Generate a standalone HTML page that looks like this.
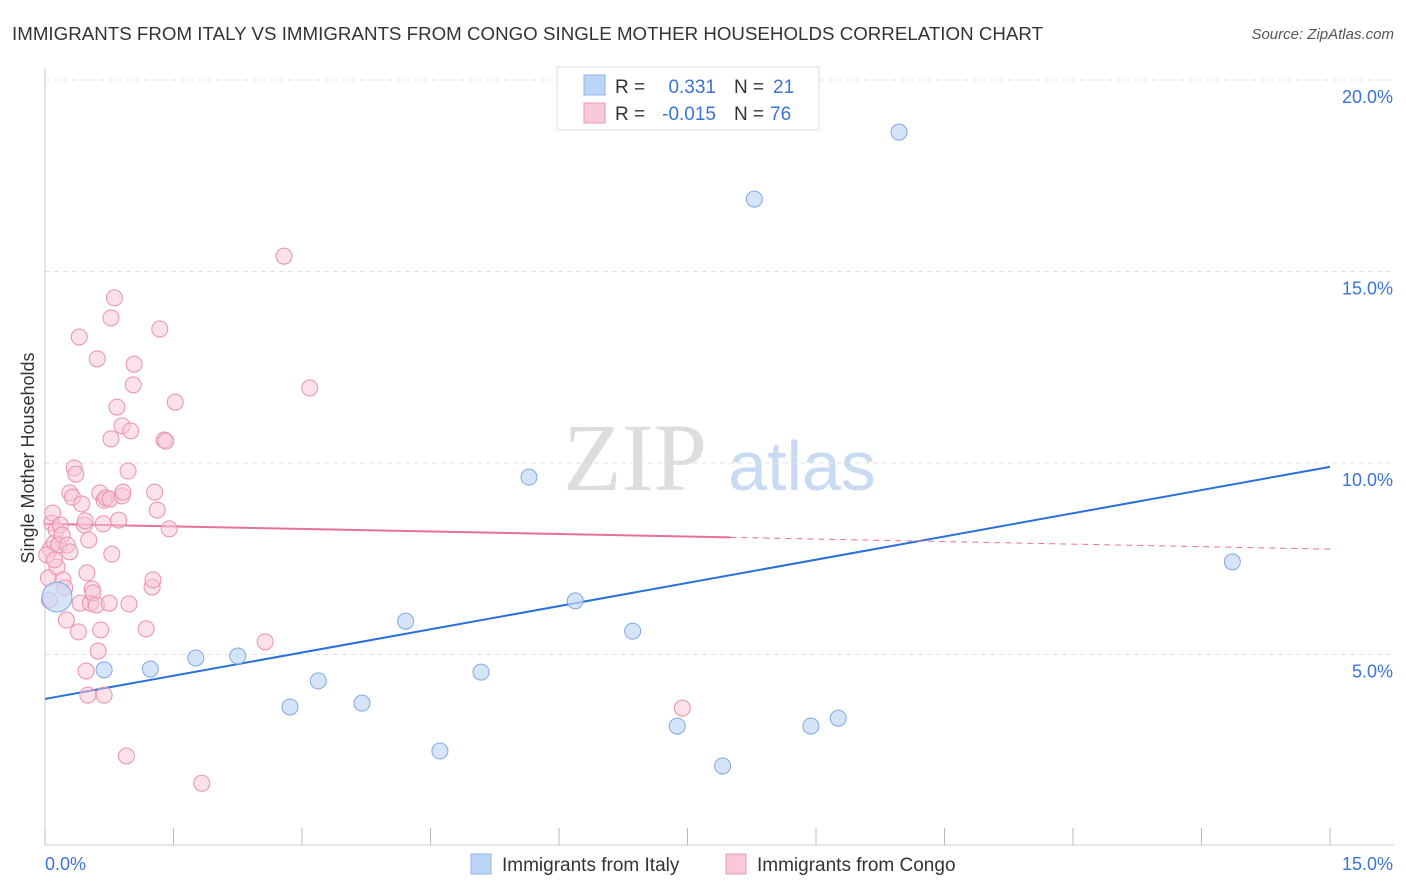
<!DOCTYPE html>
<html><head><meta charset="utf-8"><style>
body{margin:0;background:#fff;font-family:"Liberation Sans",sans-serif;}
svg{display:block}
</style></head><body>
<svg id="chart" width="1406" height="892" xmlns="http://www.w3.org/2000/svg">
<text x="12" y="40" font-size="18.7" fill="#333" textLength="1031">IMMIGRANTS FROM ITALY VS IMMIGRANTS FROM CONGO SINGLE MOTHER HOUSEHOLDS CORRELATION CHART</text>
<text x="1394" y="39" font-size="15" font-style="italic" fill="#555" text-anchor="end">Source: ZipAtlas.com</text>
<text x="34" y="458" font-size="18" fill="#333" text-anchor="middle" transform="rotate(-90 34 458)">Single Mother Households</text>
<g>
<text x="635" y="490" font-size="96" font-family="Liberation Serif,serif" fill="#ddd" text-anchor="middle">ZIP</text>
<text x="802" y="490" font-size="70" fill="#c9daf3" text-anchor="middle">atlas</text>
</g>
<g id="grid"></g><g id="axes"></g><g id="lines"></g><g id="pts"></g>
<g>
<rect x="557" y="67" width="262" height="63" fill="#fff" stroke="#ddd"/>
<rect x="584" y="75" width="21" height="20" fill="#bcd4f5" stroke="#8fb3e8"/>
<rect x="584" y="103" width="21" height="20" fill="#f9c9d8" stroke="#eb9ab5"/>
<text x="615" y="93" font-size="19" fill="#333">R = </text><text x="716" y="93" font-size="19" fill="#3b73d6" text-anchor="end">0.331</text>
<text x="734" y="93" font-size="19" fill="#333">N = </text><text x="773" y="93" font-size="19" fill="#3b73d6">21</text>
<text x="615" y="120" font-size="19" fill="#333">R = </text><text x="716" y="120" font-size="19" fill="#3b73d6" text-anchor="end">-0.015</text>
<text x="734" y="120" font-size="19" fill="#333">N = </text><text x="770" y="120" font-size="19" fill="#3b73d6">76</text>
</g>
<g>
<rect x="471" y="854" width="20" height="20" fill="#bcd4f5" stroke="#8fb3e8"/>
<text x="502" y="871" font-size="19" fill="#333">Immigrants from Italy</text>
<rect x="726" y="854" width="20" height="20" fill="#f9c9d8" stroke="#eb9ab5"/>
<text x="757" y="871" font-size="19" fill="#333">Immigrants from Congo</text>
</g>
</svg>
<script>
const yTicks=[5,10,15,20];
const yTickLabels=["5.0%","10.0%","15.0%","20.0%"];
const xEndLabels=["0.0%","15.0%"];
const italyX=[0.14,0.69,1.23,1.76,2.25,2.86,3.19,3.70,4.21,4.61,5.09,5.65,6.19,6.86,7.38,7.91,8.28,8.94,9.26,9.97,13.86];
const italyY=[6.50,4.60,4.62,4.91,4.96,3.63,4.31,3.73,5.87,2.48,4.54,9.63,6.40,5.61,3.13,2.09,16.89,3.13,3.34,18.64,7.42];
const congoX=[0.04,0.06,0.08,0.09,0.11,0.13,0.14,0.16,0.18,0.20,0.21,0.23,0.26,0.29,0.29,0.32,0.34,0.36,0.39,0.40,0.41,0.43,0.46,0.47,0.48,0.49,0.50,0.51,0.53,0.55,0.56,0.60,0.61,0.62,0.64,0.65,0.68,0.69,0.69,0.71,0.75,0.76,0.77,0.77,0.78,0.81,0.84,0.86,0.90,0.90,0.91,0.95,0.97,0.98,1.00,1.03,1.04,1.18,1.25,1.26,1.28,1.31,1.34,1.39,1.41,1.45,1.52,2.57,2.79,3.09,7.44,1.83,0.02,0.11,0.05,0.25];
const congoY=[7.00,7.75,8.43,8.69,7.91,8.25,7.28,7.86,8.38,8.12,6.95,6.74,7.86,7.68,9.22,9.11,9.87,9.71,5.59,13.29,6.34,8.93,8.38,8.49,4.57,7.13,3.94,7.99,6.34,6.71,6.61,6.29,12.72,5.09,9.22,5.64,8.41,9.03,3.94,9.09,6.34,9.06,10.63,13.79,7.62,14.31,11.46,8.51,9.14,10.97,9.24,2.35,9.79,6.32,10.84,12.04,12.58,5.67,6.76,6.95,9.24,8.77,13.50,10.60,10.57,8.28,11.59,5.33,15.40,11.96,3.60,1.64,7.60,7.47,6.42,5.90];
const italyTrend=[3.84,9.90];
const congoTrend=[8.41,7.75];
const congoSolidEndX=8.0;
const X0=45,X1=1330,YTOP=80;
const xs=v=>X0+(v/15)*(X1-X0);
const ys=v=>YTOP+(20-v)*38.3;
const NS="http://www.w3.org/2000/svg";
function mk(tag,attrs,parent){const e=document.createElementNS(NS,tag);for(const k in attrs)e.setAttribute(k,attrs[k]);document.getElementById(parent).appendChild(e);return e;}
yTicks.forEach((t,i)=>{
 const g=mk('line',{x1:X0,x2:1394,y1:ys(t),y2:ys(t),stroke:'#e2e2e2','stroke-dasharray':'5,4'},'grid');
 
 
 const l=mk('text',{x:1393,y:ys(t)+23,'font-size':18,fill:'#3b73d6','text-anchor':'end'},'grid');
 l.textContent=yTickLabels[i];
 
 
});
const ax=mk('line',{x1:X0,x2:X0,y1:68,y2:845,stroke:'#ccc'},'axes');


const bx=mk('line',{x1:X0,x2:1394,y1:845,y2:845,stroke:'#ccc'},'axes');


for(let i=0;i<=10;i++){
 const t=mk('line',{x1:xs(i*1.5),x2:xs(i*1.5),y1:828,y2:845,stroke:'#bbb'},'axes');
 
 
}
[[0,'start',X0],[1,'end',1393]].forEach(([i,a,x])=>{
 const l=mk('text',{x:x,y:870,'font-size':18,fill:'#3b73d6','text-anchor':a},'axes');
 l.textContent=xEndLabels[i];
 
 
});
const bl=mk('line',{x1:xs(0),y1:ys(italyTrend[0]),x2:xs(15),y2:ys(italyTrend[1]),stroke:'#2a6fdb','stroke-width':2},'lines');


const cs=(congoTrend[1]-congoTrend[0])/15;
const ye=congoTrend[0]+cs*congoSolidEndX;
const pl=mk('line',{x1:xs(0),y1:ys(congoTrend[0]),x2:xs(congoSolidEndX),y2:ys(ye),stroke:'#e8709a','stroke-width':2},'lines');


const pd=mk('line',{x1:xs(congoSolidEndX),y1:ys(ye),x2:xs(15),y2:ys(congoTrend[1]),stroke:'#e8709a','stroke-width':1,'stroke-dasharray':'6,5'},'lines');


congoX.forEach((x,i)=>{
 const c=mk('circle',{cx:xs(x),cy:ys(congoY[i]),r:8,fill:'#f7c5d5','fill-opacity':0.5,stroke:'#eb8fae','stroke-width':1},'pts');
 
 
});
italyX.forEach((x,i)=>{
 const c=mk('circle',{cx:xs(x),cy:ys(italyY[i]),r:i===0?15:8,fill:'#c5d8f5','fill-opacity':0.7,stroke:'#7fa8e6','stroke-width':1},'pts');
 
 
});
</script>
</body></html>
